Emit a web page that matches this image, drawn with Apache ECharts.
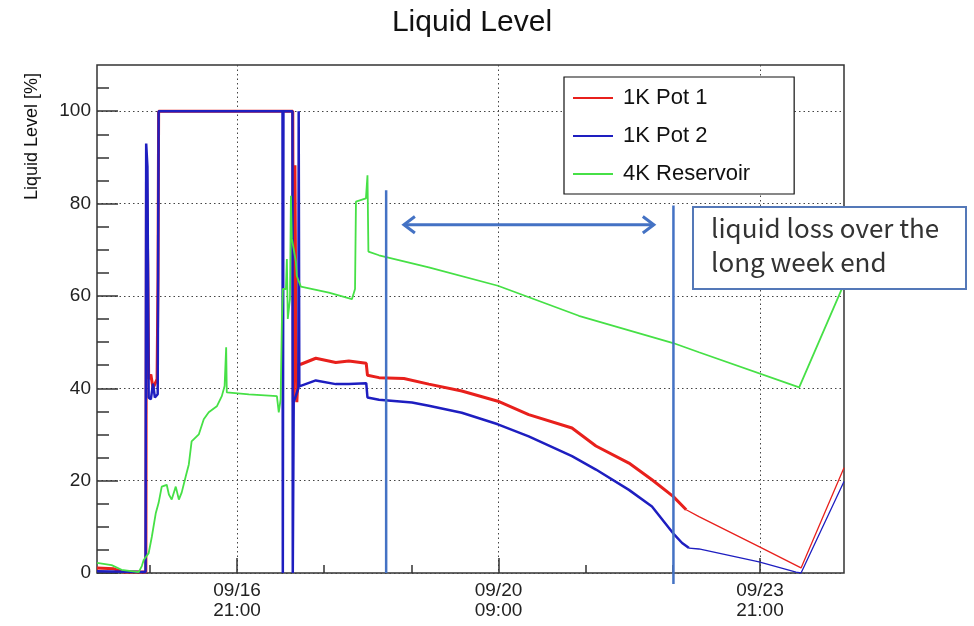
<!DOCTYPE html>
<html><head><meta charset="utf-8">
<script src="https://cdn.jsdelivr.net/npm/echarts@6/dist/echarts.min.js"></script>
<style>html,body{margin:0;padding:0;background:#fff}#c{width:974px;height:626px}</style>
</head><body><div id="c"></div>
<script>
// x values: hours since 09/15 00:00
const seriesNames = ['1K Pot 1', '1K Pot 2', '4K Reservoir'];
const seriesColors = ['#e8201c', '#1e1ec0', '#46e046'];

const pot1Hours = [0,5.4,8.6,14.4,15.7,15.9,16.3,16.6,17.3,18.0,19.3,19.6,19.8,62.9,63.1,63.6,63.9,64.2,64.8,65.5,70.3,76.7,80.9,86.5,86.9,90.6,98.6,106.6,117.2,128.8,138.7,152.6,160.3,170.9,178.3,185.1,189.3,193.4,212.7,226.2,240];
const pot1Level = [1.1,0.9,0.2,0.2,0.2,88,67,42,43,40,42,64,100,100,37,88.3,52,37,45.2,45.2,46.5,45.6,45.9,45.4,42.8,42.3,42.1,40.9,39.4,37.2,34.3,31.4,27.5,23.8,20.2,16.6,13.7,12.2,5.7,1.1,22.8];
const pot1TailFrom = 189.3;

const pot2Hours = [0,14.4,15.6,15.8,16.2,16.6,17.3,18.0,18.6,19.5,19.8,59.6,59.7,59.9,62.8,62.9,63.2,64.7,64.8,65.0,65.5,70.3,76.7,80.9,86.5,86.9,90.6,101.2,106.6,117.2,128.8,138.7,152.6,160.3,170.9,178.3,185.1,188.0,190.2,193.4,212.7,224.6,226.2,240];
const pot2Level = [0.4,0.2,0.2,93,88,38,37.6,41,38,38.7,100,100,0,100,100,0,37,40,100,40.4,40.4,41.7,40.9,40.9,41.1,38,37.5,36.9,36.2,34.7,32.2,29.6,25.3,22.4,18,14.4,8.6,6.5,5.4,5.2,2.4,0.2,0,19.8];
const pot2TailFrom = 190.2;

const resHours = [0,4.7,7.9,13.4,14.4,15.0,16.6,17.6,18.9,19.8,20.8,22.4,23.1,24.0,25.3,26.3,27.2,28.5,29.5,30.4,32.7,34.3,35.9,38.5,40.1,41.0,41.5,41.7,48.8,57.8,58.4,59.0,59.4,59.7,60.7,61.0,61.3,62.0,62.3,62.6,63.9,64.2,65.5,74.5,81.9,82.9,83.2,86.4,86.9,87.2,90.6,106.6,128.8,154.8,185.1,193.4,225.6,240];
const resLevel = [2.2,1.7,0.7,0.2,1.5,2.8,4.3,7.8,13,15.2,18.7,19.1,17,15.9,18.7,15.9,17.4,20.9,23.5,28.5,30,33.3,34.8,36.1,38.3,40.5,48.9,39.1,38.7,38.3,34.8,37.6,54.3,61.5,61.5,68,55,59.3,81.7,72.4,67.4,64.3,62,60.7,59.3,61.5,80.4,81.1,86.1,69.6,68.8,66.2,62.2,55.7,49.8,47.8,40.2,62.6];

const xRange = [0, 240];
const yRange = [0, 110];
const xMajorHours = [45, 129, 213];
const xMajorLabels = ['09/16\n21:00', '09/20\n09:00', '09/23\n21:00'];
const xMinorHours = [17, 73, 101, 157, 185];
const yMajorValues = [0, 20, 40, 60, 80, 100];
const yMinorValues = [5, 10, 15, 25, 30, 35, 45, 50, 55, 65, 70, 75, 85, 90, 95, 105];

// annotation (data coordinates)
const markHourA = 92.9, markHourB = 185.2;
const arrowHours = [98.6, 178.9], arrowLevel = 75.4;
const noteText = 'liquid loss over the\nlong week end';

const FONT = '"Liberation Sans", Arial, sans-serif';
function pairs(xs, ys, from, to) {
  const out = [];
  for (let i = 0; i < xs.length; i++) if (xs[i] >= from && xs[i] <= to) out.push([xs[i], ys[i]]);
  return out;
}
const tickStyle = { color: '#333', width: 1.5 };
const chart = echarts.init(document.getElementById('c'), null, { renderer: 'canvas' });
const option = {
  animation: false,
  backgroundColor: '#fff',
  textStyle: { fontFamily: FONT },
  grid: { left: 97, right: 130, top: 65, bottom: 53, show: true, borderColor: '#333', borderWidth: 1.5, backgroundColor: 'transparent', outerBoundsMode: 'none' },
  legend: {
    data: seriesNames, orient: 'vertical', left: 564, top: 77,
    icon: 'rect', itemWidth: 40, itemHeight: 2, itemGap: 16,
    padding: [10, 44, 9, 9],
    backgroundColor: '#fff', borderColor: '#111', borderWidth: 1.2,
    textStyle: { fontSize: 22, color: '#111', fontFamily: FONT, padding: [0, 0, 0, 5] }
  },
  xAxis: [
    { type: 'value', min: xRange[0], max: xRange[1], position: 'bottom',
      axisLine: { show: false },
      axisTick: { inside: true, length: 15, customValues: xMajorHours, lineStyle: tickStyle },
      axisLabel: { customValues: xMajorHours, formatter: v => xMajorLabels[xMajorHours.indexOf(v)] || '', fontSize: 19, lineHeight: 20, color: '#222', margin: 8, fontFamily: FONT },
      splitLine: { show: true, lineStyle: { type: [1.5, 3], color: '#444', width: 1 } } },
    { type: 'value', min: xRange[0], max: xRange[1], position: 'bottom',
      axisLine: { show: false },
      axisTick: { inside: true, length: 8, customValues: xMinorHours, lineStyle: tickStyle },
      axisLabel: { show: false }, splitLine: { show: false } }
  ],
  yAxis: [
    { type: 'value', min: yRange[0], max: yRange[1], position: 'left',
      axisLine: { show: false },
      axisTick: { inside: true, length: 21, customValues: yMajorValues, lineStyle: tickStyle },
      axisLabel: { customValues: yMajorValues, fontSize: 19, color: '#222', margin: 6, fontFamily: FONT },
      splitLine: { show: true, lineStyle: { type: [1.5, 3], color: '#444', width: 1 } } },
    { type: 'value', min: yRange[0], max: yRange[1], position: 'left',
      axisLine: { show: false },
      axisTick: { inside: true, length: 12, customValues: yMinorValues, lineStyle: tickStyle },
      axisLabel: { show: false }, splitLine: { show: false } }
  ],
  series: [
    { name: seriesNames[0], type: 'line', data: pairs(pot1Hours, pot1Level, 0, pot1TailFrom), symbol: 'none', color: seriesColors[0], lineStyle: { width: 3 }, z: 2 },
    { name: seriesNames[0], type: 'line', data: pairs(pot1Hours, pot1Level, pot1TailFrom, 999), symbol: 'none', color: seriesColors[0], lineStyle: { width: 1.3 }, z: 2 },
    { name: seriesNames[1], type: 'line', data: pairs(pot2Hours, pot2Level, 0, pot2TailFrom), symbol: 'none', color: seriesColors[1], lineStyle: { width: 2.5 }, z: 3 },
    { name: seriesNames[1], type: 'line', data: pairs(pot2Hours, pot2Level, pot2TailFrom, 999), symbol: 'none', color: seriesColors[1], lineStyle: { width: 1.3 }, z: 3 },
    { name: seriesNames[2], type: 'line', data: pairs(resHours, resLevel, 0, 999), symbol: 'none', color: seriesColors[2], lineStyle: { width: 1.8 }, z: 4 }
  ]
};
chart.setOption(option);

const P = (h, v) => chart.convertToPixel({ gridIndex: 0 }, [h, v]);
const a1 = P(markHourA, 0), a2 = P(markHourA, 82.9);
const b1 = P(markHourB, -2.4), b2 = P(markHourB, 79.6);
const l = P(arrowHours[0], arrowLevel), r = P(arrowHours[1], arrowLevel);
const annColor = '#4472c4';
const head = 11;
chart.setOption({
  graphic: [
    { type: 'text', x: 472, y: 8, style: { text: 'Liquid Level', font: '30px ' + FONT, fill: '#111', align: 'center' } },
    { type: 'text', x: 32, y: 73, rotation: Math.PI / 2, style: { text: 'Liquid Level [%]', font: '18px ' + FONT, fill: '#111', align: 'right', verticalAlign: 'middle' } },
    { type: 'line', shape: { x1: a1[0], y1: a1[1], x2: a2[0], y2: a2[1] }, style: { stroke: annColor, lineWidth: 2.5 }, z: 100 },
    { type: 'line', shape: { x1: b1[0], y1: b1[1], x2: b2[0], y2: b2[1] }, style: { stroke: annColor, lineWidth: 2.5 }, z: 100 },
    { type: 'line', shape: { x1: l[0], y1: l[1], x2: r[0], y2: r[1] }, style: { stroke: annColor, lineWidth: 3 }, z: 100 },
    { type: 'polyline', shape: { points: [[l[0] + head, l[1] - head * 0.75], [l[0], l[1]], [l[0] + head, l[1] + head * 0.75]] }, style: { stroke: annColor, lineWidth: 3, fill: null }, z: 100 },
    { type: 'polyline', shape: { points: [[r[0] - head, r[1] - head * 0.75], [r[0], r[1]], [r[0] - head, r[1] + head * 0.75]] }, style: { stroke: annColor, lineWidth: 3, fill: null }, z: 100 },
    { type: 'rect', shape: { x: 693, y: 207, width: 273, height: 82 }, style: { fill: '#fff', stroke: '#5478b8', lineWidth: 2 }, z: 100 },
    { type: 'text', x: 711, y: 211, style: { text: noteText, font: '26px "Noto Sans CJK JP", "Noto Sans", sans-serif', fill: '#333', lineHeight: 34 }, z: 101 }
  ]
});
</script></body></html>
